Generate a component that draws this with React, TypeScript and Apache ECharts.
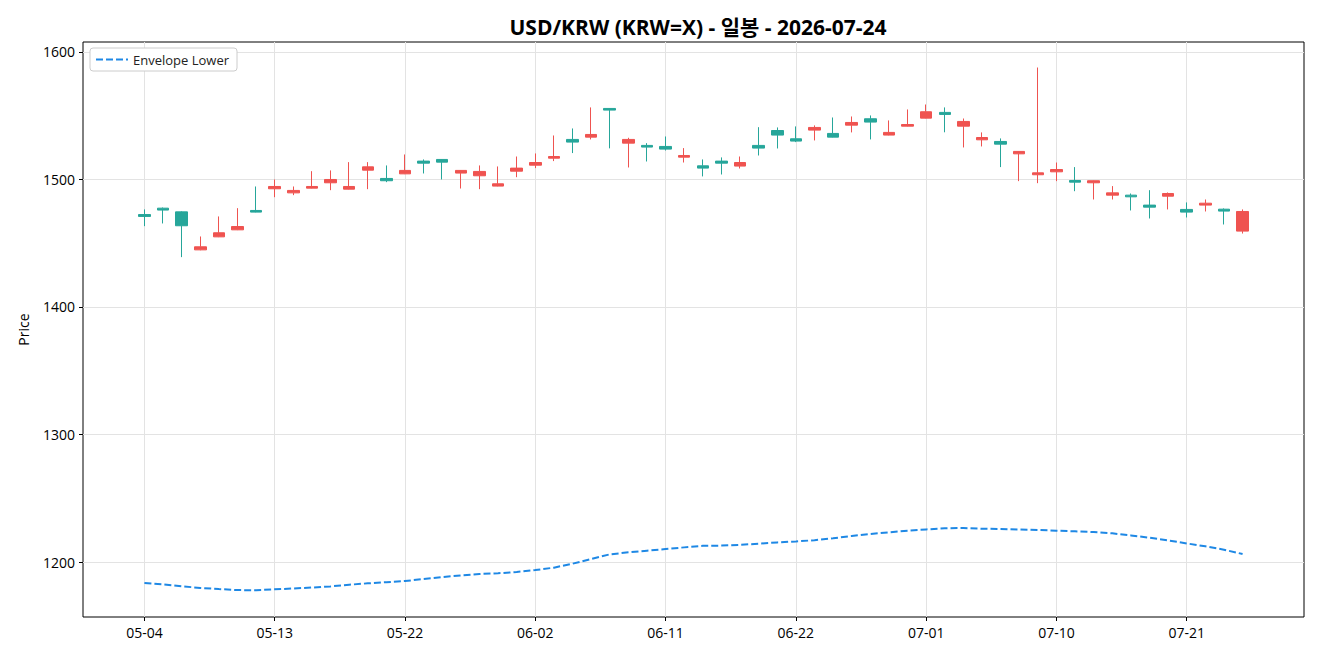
import React, { useEffect, useRef } from "react";
import * as echarts from "echarts";

// Trading days (MM-DD)
const dates = [
  "05-04", "05-05", "05-06", "05-07", "05-08",
  "05-11", "05-12", "05-13", "05-14", "05-15",
  "05-18", "05-19", "05-20", "05-21", "05-22",
  "05-25", "05-26", "05-27", "05-28", "05-29",
  "06-01", "06-02", "06-03", "06-04", "06-05",
  "06-08", "06-09", "06-10", "06-11", "06-12",
  "06-15", "06-16", "06-17", "06-18", "06-19",
  "06-22", "06-23", "06-24", "06-25", "06-26",
  "06-29", "06-30", "07-01", "07-02", "07-03",
  "07-06", "07-07", "07-08", "07-09", "07-10",
  "07-13", "07-14", "07-15", "07-16", "07-17",
  "07-20", "07-21", "07-22", "07-23", "07-24",
];

const opens = [
  1472.5, 1477.5, 1474.6, 1444.8, 1455.0, 1460.5, 1475.7, 1492.7, 1489.5, 1493.2,
  1497.4, 1492.4, 1507.3, 1500.8, 1504.4, 1514.4, 1515.7, 1505.0, 1502.9, 1494.8,
  1506.5, 1511.2, 1516.7, 1531.4, 1533.2, 1555.7, 1528.5, 1526.7, 1525.9, 1517.5,
  1510.7, 1514.4, 1510.5, 1526.7, 1538.4, 1531.9, 1538.7, 1536.1, 1542.6, 1547.6,
  1534.8, 1541.8, 1548.1, 1552.6, 1541.8, 1531.1, 1529.8, 1520.1, 1503.7, 1506.0,
  1499.2, 1497.4, 1487.7, 1487.7, 1479.9, 1486.9, 1476.5, 1479.9, 1476.7, 1459.5,
];

const closes = [
  1471.0, 1476.0, 1463.7, 1447.2, 1458.2, 1463.1, 1474.4, 1494.5, 1491.4, 1494.5,
  1500.0, 1494.5, 1509.9, 1499.0, 1507.1, 1512.8, 1513.6, 1507.1, 1506.3, 1496.6,
  1508.9, 1513.3, 1518.0, 1529.3, 1535.3, 1554.4, 1531.4, 1525.4, 1523.8, 1518.8,
  1508.9, 1512.8, 1513.3, 1524.6, 1534.8, 1530.1, 1540.8, 1533.2, 1544.7, 1545.0,
  1536.9, 1543.1, 1553.1, 1551.0, 1545.5, 1532.9, 1527.7, 1522.0, 1505.2, 1507.8,
  1497.9, 1499.0, 1489.5, 1486.4, 1478.3, 1489.0, 1474.4, 1481.4, 1475.2, 1474.9,
];

const lows = [
  1463.4, 1465.5, 1439.1, 1444.5, 1454.8, 1460.3, 1474.2, 1486.1, 1487.7, 1493.0,
  1491.6, 1492.2, 1492.4, 1497.9, 1504.2, 1504.7, 1500.0, 1492.9, 1492.4, 1494.6,
  1501.8, 1508.9, 1514.4, 1520.7, 1531.4, 1524.4, 1509.4, 1514.1, 1522.7, 1513.3,
  1502.4, 1503.9, 1508.6, 1518.8, 1524.3, 1529.3, 1530.6, 1533.0, 1536.9, 1531.4,
  1534.6, 1541.6, 1547.9, 1537.0, 1525.1, 1525.9, 1509.7, 1498.7, 1497.1, 1498.7,
  1490.8, 1484.3, 1484.3, 1475.7, 1469.4, 1476.5, 1470.2, 1474.9, 1464.7, 1457.6,
];

const highs = [
  1476.5, 1478.0, 1475.0, 1455.3, 1471.0, 1477.5, 1494.5, 1500.0, 1494.5, 1506.5,
  1507.1, 1513.6, 1513.6, 1511.0, 1519.6, 1515.7, 1515.9, 1507.3, 1511.0, 1510.2,
  1518.0, 1520.4, 1534.5, 1540.0, 1556.5, 1555.9, 1532.7, 1528.5, 1533.7, 1524.6,
  1515.7, 1517.3, 1518.0, 1541.0, 1540.8, 1541.6, 1542.4, 1548.6, 1549.4, 1550.2,
  1546.3, 1554.9, 1558.8, 1556.5, 1547.8, 1536.9, 1532.2, 1522.2, 1587.8, 1513.3,
  1509.7, 1499.2, 1494.8, 1489.0, 1491.6, 1489.8, 1482.0, 1484.3, 1477.3, 1476.5,
];

const envelopeLower = [
  1183.5, 1182.4, 1181.0, 1179.7, 1178.8, 1178.0, 1177.9, 1178.6, 1179.3, 1180.0,
  1180.9, 1182.2, 1183.3, 1184.2, 1185.1, 1186.7, 1188.2, 1189.5, 1190.6, 1191.2,
  1192.2, 1193.7, 1195.6, 1198.7, 1202.4, 1206.0, 1207.6, 1208.9, 1210.2, 1211.5,
  1212.7, 1212.9, 1213.5, 1214.4, 1215.4, 1216.2, 1217.1, 1218.6, 1220.4, 1222.0,
  1223.3, 1224.6, 1225.6, 1226.4, 1226.7, 1226.1, 1225.9, 1225.5, 1225.1, 1224.6,
  1224.1, 1223.5, 1222.5, 1220.9, 1219.1, 1217.0, 1214.6, 1212.3, 1209.7, 1206.3,
];

const xTickIndices = [0, 7, 14, 21, 28, 35, 42, 49, 56];
const yTicks = [1200, 1300, 1400, 1500, 1600];

const FONT = "'Open Sans', 'Noto Sans CJK KR', sans-serif";
const UP = "#ef5350";
const DOWN = "#26a69a";

export default function App() {
  const ref = useRef<HTMLDivElement>(null);

  useEffect(() => {
    if (!ref.current) return;
    const chart = echarts.init(ref.current, null, { renderer: "svg" });

    const candles = dates.map((_, i) => [i, opens[i], closes[i], lows[i], highs[i]]);
    const envelope = envelopeLower.map((v, i) => [i, v]);

    chart.setOption({
      animation: false,
      backgroundColor: "#ffffff",
      textStyle: { fontFamily: FONT },
      title: {
        text: "USD/KRW (KRW=X) - 일봉 - 2026-07-24",
        left: 693,
        top: 11,
        textAlign: "center",
        textStyle: { fontFamily: FONT, fontSize: 21, fontWeight: "bold", color: "#000" },
      },
      legend: {
        left: 90,
        top: 48,
        orient: "vertical",
        padding: [5, 8, 5, 5],
        itemWidth: 32,
        itemHeight: 12,
        itemGap: 6,
        borderColor: "#cccccc",
        borderWidth: 1,
        borderRadius: 3,
        backgroundColor: "#ffffff",
        itemStyle: { opacity: 0 },
        textStyle: { fontFamily: FONT, fontSize: 13, color: "#222" },
        data: ["Envelope Lower"],
      },
      grid: {
        left: 83,
        right: 16,
        top: 42,
        bottom: 43,
        show: true,
        borderColor: "#000",
        borderWidth: 1,
        backgroundColor: "transparent",
      },
      xAxis: {
        type: "value",
        min: -3.3,
        max: 62.3,
        axisLine: { show: false, onZero: false },
        axisTick: {
          show: true,
          length: 4,
          lineStyle: { color: "#000" },
          customValues: xTickIndices,
        },
        axisLabel: {
          customValues: xTickIndices,
          formatter: (v: number) => dates[Math.round(v)] ?? "",
          fontFamily: FONT,
          fontSize: 14,
          color: "#000",
          margin: 8,
        },
        splitLine: { show: true, lineStyle: { color: "#e3e3e3", width: 1 } },
      },
      yAxis: {
        type: "value",
        min: 1156.9,
        max: 1607.8,
        name: "Price",
        nameLocation: "middle",
        nameGap: 53,
        nameTextStyle: { fontFamily: FONT, fontSize: 14, color: "#000" },
        axisLine: { show: false, onZero: false },
        axisTick: {
          show: true,
          length: 4,
          lineStyle: { color: "#000" },
          customValues: yTicks,
        },
        axisLabel: {
          customValues: yTicks,
          formatter: (v: number) => String(Math.round(v)),
          fontFamily: FONT,
          fontSize: 14,
          color: "#000",
          margin: 8,
        },
        splitLine: { show: true, lineStyle: { color: "#e3e3e3", width: 1 } },
      },
      series: [
        {
          name: "Price",
          type: "candlestick",
          data: candles,
          encode: { x: 0, y: [1, 2, 3, 4] },
          barWidth: 12,
          itemStyle: {
            color: UP,
            color0: DOWN,
            borderColor: UP,
            borderColor0: DOWN,
            borderWidth: 1,
          },
        },
        {
          name: "Envelope Lower",
          type: "line",
          data: envelope,
          symbol: "none",
          smooth: false,
          lineStyle: { color: "#1e88e5", width: 2, type: [7, 3] },
          itemStyle: { color: "#1e88e5" },
          z: 3,
        },
      ],
    });

    return () => chart.dispose();
  }, []);

  return (
    <div
      ref={ref}
      style={{ position: "absolute", left: 0, top: 0, width: 1320, height: 660 }}
    />
  );
}
